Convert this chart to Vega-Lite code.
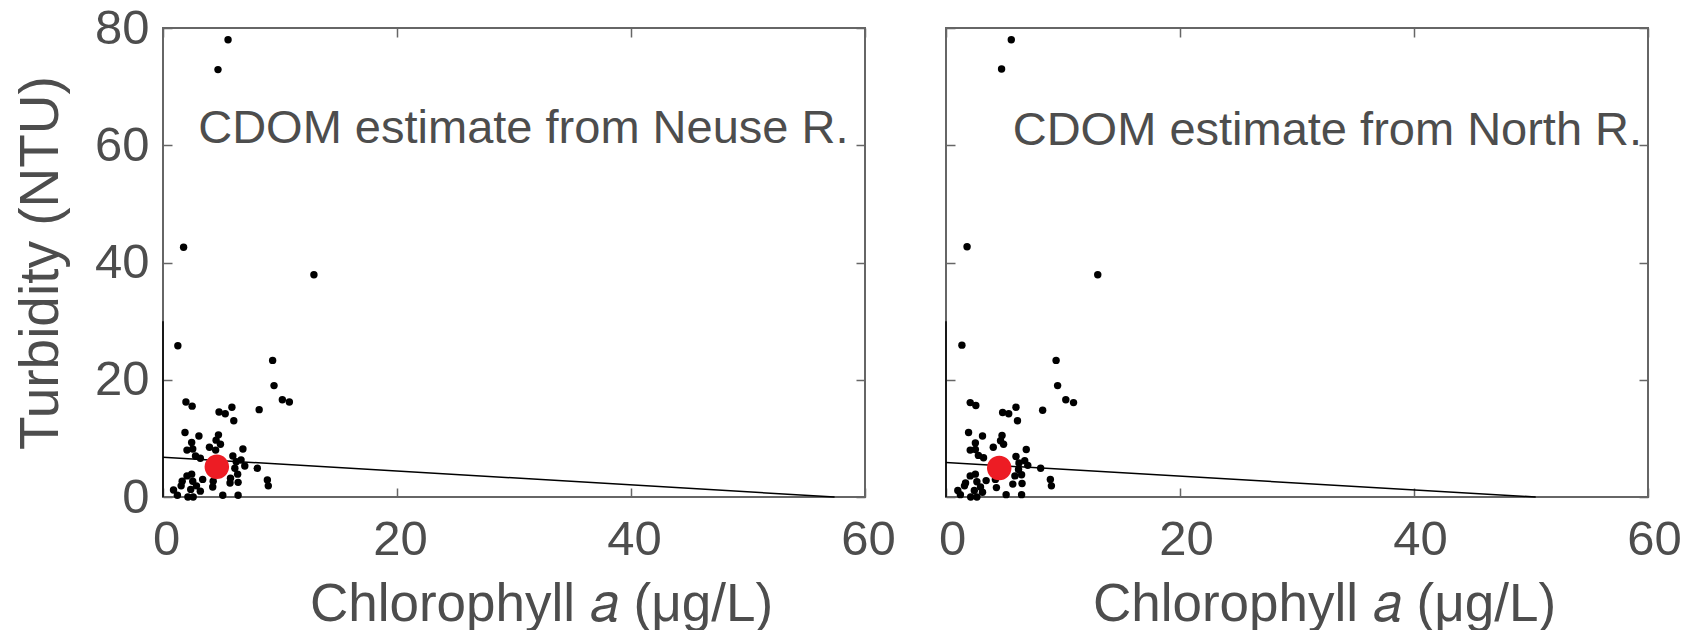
{
  "$schema": "https://vega.github.io/schema/vega-lite/v6.json",
  "background": "white",
  "padding": {"left": 12, "top": 3, "right": 0, "bottom": 0},
  "bounds": "flush",
  "spacing": 81,
  "config": {
    "view": {"stroke": "#666666", "strokeWidth": 2},
    "font": "Liberation Sans",
    "axis": {
      "grid": false,
      "domain": false,
      "labelFont": "Liberation Sans",
      "labelFontSize": 49,
      "labelColor": "#4d4d4d",
      "titleFont": "Liberation Sans",
      "titleFontSize": 53,
      "titleColor": "#4d4d4d",
      "titleFontWeight": "normal",
      "tickColor": "#666666",
      "tickSize": -9,
      "tickWidth": 1.5,
      "labelFlush": false
    }
  },
  "datasets": {
    "neuse_pts": [
      {"chl": 5.56, "turb": 78.0}, {"chl": 4.70, "turb": 72.9}, {"chl": 1.76, "turb": 42.6}, {"chl": 12.9, "turb": 37.9},
      {"chl": 1.27, "turb": 25.8}, {"chl": 9.37, "turb": 23.3}, {"chl": 9.49, "turb": 19.0}, {"chl": 10.2, "turb": 16.6},
      {"chl": 10.8, "turb": 16.2}, {"chl": 1.96, "turb": 16.2}, {"chl": 2.49, "turb": 15.5}, {"chl": 4.79, "turb": 14.5},
      {"chl": 5.32, "turb": 14.2}, {"chl": 5.89, "turb": 15.3}, {"chl": 6.05, "turb": 13.0}, {"chl": 8.22, "turb": 14.9},
      {"chl": 1.88, "turb": 11.0}, {"chl": 3.07, "turb": 10.4}, {"chl": 4.74, "turb": 10.6}, {"chl": 2.45, "turb": 9.3},
      {"chl": 4.54, "turb": 9.7}, {"chl": 4.91, "turb": 9.0}, {"chl": 3.97, "turb": 8.5}, {"chl": 2.05, "turb": 8.0},
      {"chl": 2.54, "turb": 8.2}, {"chl": 4.50, "turb": 8.0}, {"chl": 6.83, "turb": 8.2}, {"chl": 2.78, "turb": 7.0},
      {"chl": 3.19, "turb": 6.6}, {"chl": 5.97, "turb": 7.0}, {"chl": 6.67, "turb": 6.3}, {"chl": 6.99, "turb": 5.3},
      {"chl": 8.06, "turb": 4.9}, {"chl": 6.26, "turb": 6.0}, {"chl": 6.14, "turb": 4.9}, {"chl": 6.38, "turb": 3.9},
      {"chl": 6.42, "turb": 2.5}, {"chl": 5.73, "turb": 2.4}, {"chl": 6.42, "turb": 0.3}, {"chl": 5.11, "turb": 0.3},
      {"chl": 4.25, "turb": 1.7}, {"chl": 3.39, "turb": 3.0}, {"chl": 2.45, "turb": 3.9}, {"chl": 2.05, "turb": 3.6},
      {"chl": 1.64, "turb": 2.7}, {"chl": 1.55, "turb": 1.9}, {"chl": 2.54, "turb": 2.7}, {"chl": 2.86, "turb": 1.9},
      {"chl": 2.37, "turb": 1.3}, {"chl": 3.19, "turb": 1.0}, {"chl": 2.13, "turb": 0.0}, {"chl": 2.58, "turb": 0.0},
      {"chl": 0.9, "turb": 1.2}, {"chl": 1.23, "turb": 0.3}, {"chl": 8.92, "turb": 2.9}, {"chl": 9.0, "turb": 1.9},
      {"chl": 5.77, "turb": 3.2}, {"chl": 4.29, "turb": 2.7}
    ],
    "north_pts": [
      {"chl": 5.58, "turb": 78.0}, {"chl": 4.75, "turb": 73.0}, {"chl": 1.80, "turb": 42.7}, {"chl": 12.97, "turb": 37.9},
      {"chl": 1.36, "turb": 25.9}, {"chl": 9.41, "turb": 23.3}, {"chl": 9.54, "turb": 19.0}, {"chl": 10.24, "turb": 16.6},
      {"chl": 10.9, "turb": 16.1}, {"chl": 2.07, "turb": 16.1}, {"chl": 2.55, "turb": 15.6}, {"chl": 4.84, "turb": 14.4},
      {"chl": 5.36, "turb": 14.2}, {"chl": 5.98, "turb": 15.3}, {"chl": 6.11, "turb": 13.0}, {"chl": 8.26, "turb": 14.8},
      {"chl": 1.93, "turb": 11.0}, {"chl": 3.12, "turb": 10.4}, {"chl": 4.79, "turb": 10.5}, {"chl": 2.51, "turb": 9.2},
      {"chl": 4.66, "turb": 9.6}, {"chl": 4.92, "turb": 9.0}, {"chl": 4.04, "turb": 8.5}, {"chl": 2.07, "turb": 8.0},
      {"chl": 2.51, "turb": 8.1}, {"chl": 6.86, "turb": 8.1}, {"chl": 2.77, "turb": 7.1}, {"chl": 3.21, "turb": 6.7},
      {"chl": 5.98, "turb": 6.9}, {"chl": 6.73, "turb": 6.2}, {"chl": 6.99, "turb": 5.4}, {"chl": 8.09, "turb": 4.9},
      {"chl": 6.24, "turb": 5.8}, {"chl": 6.2, "turb": 4.7}, {"chl": 6.46, "turb": 3.8}, {"chl": 6.5, "turb": 2.3},
      {"chl": 5.71, "turb": 2.2}, {"chl": 6.46, "turb": 0.4}, {"chl": 5.14, "turb": 0.4}, {"chl": 4.31, "turb": 1.6},
      {"chl": 3.43, "turb": 2.8}, {"chl": 2.51, "turb": 3.9}, {"chl": 2.07, "turb": 3.6}, {"chl": 1.67, "turb": 2.4},
      {"chl": 1.58, "turb": 1.9}, {"chl": 2.64, "turb": 2.6}, {"chl": 2.95, "turb": 1.7}, {"chl": 2.42, "turb": 1.1},
      {"chl": 3.12, "turb": 0.8}, {"chl": 2.11, "turb": 0.0}, {"chl": 2.64, "turb": 0.0}, {"chl": 1.01, "turb": 1.1},
      {"chl": 1.23, "turb": 0.4}, {"chl": 8.92, "turb": 3.0}, {"chl": 9.01, "turb": 1.9}, {"chl": 5.89, "turb": 3.6},
      {"chl": 4.22, "turb": 3.0}
    ],
    "neuse_lines": [
      {"x": 0, "y": 6.8, "x2": 57.4, "y2": 0},
      {"x": 0, "y": 0, "x2": 0, "y2": 30}
    ],
    "north_lines": [
      {"x": 0, "y": 5.9, "x2": 50.4, "y2": 0},
      {"x": 0, "y": 0, "x2": 0, "y2": 30}
    ],
    "neuse_mean": [{"chl": 4.6, "turb": 5.15}],
    "north_mean": [{"chl": 4.55, "turb": 4.95}],
    "neuse_label": [{"x": 30.8, "y": 62.8, "text": "CDOM estimate from Neuse R."}],
    "north_label": [{"x": 32.6, "y": 62.5, "text": "CDOM estimate from North R."}]
  },
  "hconcat": [
    {
      "width": 702,
      "height": 469,
      "resolve": {"axis": {"x": "independent", "y": "independent"}},
      "layer": [
        {
          "data": {"name": "neuse_lines"},
          "mark": {"type": "rule", "color": "black", "strokeWidth": 1.5},
          "encoding": {
            "x": {"field": "x", "type": "quantitative", "scale": {"domain": [0, 60], "nice": false},
                  "axis": {"values": [0, 20, 40, 60], "labelPadding": 27, "labelOffset": 3, "title": "Chlorophyll 𝑎 (μg/L)", "titlePadding": 14, "titleX": 378}},
            "y": {"field": "y", "type": "quantitative", "scale": {"domain": [0, 80], "nice": false},
                  "axis": {"values": [0, 20, 40, 60, 80], "labelPadding": 23, "title": "Turbidity (NTU)", "titlePadding": 25, "titleFontSize": 55}},
            "x2": {"field": "x2"},
            "y2": {"field": "y2"}
          }
        },
        {
          "data": {"name": "neuse_pts"},
          "mark": {"type": "circle", "color": "black", "opacity": 1, "size": 55},
          "encoding": {
            "x": {"field": "chl", "type": "quantitative", "axis": null},
            "y": {"field": "turb", "type": "quantitative", "axis": null}
          }
        },
        {
          "data": {"name": "neuse_mean"},
          "mark": {"type": "circle", "color": "#ed1c24", "opacity": 1, "size": 600},
          "encoding": {
            "x": {"field": "chl", "type": "quantitative", "axis": null},
            "y": {"field": "turb", "type": "quantitative", "axis": null}
          }
        },
        {
          "data": {"name": "neuse_label"},
          "mark": {"type": "text", "fontSize": 47, "color": "#4d4d4d", "align": "center", "baseline": "middle", "font": "Liberation Sans"},
          "encoding": {
            "x": {"field": "x", "type": "quantitative", "axis": null},
            "y": {"field": "y", "type": "quantitative", "axis": null},
            "text": {"field": "text"}
          }
        },
        {
          "data": {"name": "neuse_mean"},
          "mark": {"type": "point", "opacity": 0},
          "encoding": {
            "x": {"field": "chl", "type": "quantitative", "axis": {"orient": "top", "values": [0, 20, 40, 60], "labels": false, "title": null}},
            "y": {"field": "turb", "type": "quantitative", "axis": {"orient": "right", "values": [0, 20, 40, 60, 80], "labels": false, "title": null}}
          }
        }
      ]
    },
    {
      "width": 702,
      "height": 469,
      "resolve": {"axis": {"x": "independent", "y": "independent"}},
      "layer": [
        {
          "data": {"name": "north_lines"},
          "mark": {"type": "rule", "color": "black", "strokeWidth": 1.5},
          "encoding": {
            "x": {"field": "x", "type": "quantitative", "scale": {"domain": [0, 60], "nice": false},
                  "axis": {"values": [0, 20, 40, 60], "labelPadding": 27, "labelOffset": 6, "title": "Chlorophyll 𝑎 (μg/L)", "titlePadding": 14, "titleX": 378}},
            "y": {"field": "y", "type": "quantitative", "scale": {"domain": [0, 80], "nice": false},
                  "axis": {"values": [0, 20, 40, 60, 80], "labels": false, "title": null}},
            "x2": {"field": "x2"},
            "y2": {"field": "y2"}
          }
        },
        {
          "data": {"name": "north_pts"},
          "mark": {"type": "circle", "color": "black", "opacity": 1, "size": 55},
          "encoding": {
            "x": {"field": "chl", "type": "quantitative", "axis": null},
            "y": {"field": "turb", "type": "quantitative", "axis": null}
          }
        },
        {
          "data": {"name": "north_mean"},
          "mark": {"type": "circle", "color": "#ed1c24", "opacity": 1, "size": 600},
          "encoding": {
            "x": {"field": "chl", "type": "quantitative", "axis": null},
            "y": {"field": "turb", "type": "quantitative", "axis": null}
          }
        },
        {
          "data": {"name": "north_label"},
          "mark": {"type": "text", "fontSize": 47, "color": "#4d4d4d", "align": "center", "baseline": "middle", "font": "Liberation Sans"},
          "encoding": {
            "x": {"field": "x", "type": "quantitative", "axis": null},
            "y": {"field": "y", "type": "quantitative", "axis": null},
            "text": {"field": "text"}
          }
        },
        {
          "data": {"name": "north_mean"},
          "mark": {"type": "point", "opacity": 0},
          "encoding": {
            "x": {"field": "chl", "type": "quantitative", "axis": {"orient": "top", "values": [0, 20, 40, 60], "labels": false, "title": null}},
            "y": {"field": "turb", "type": "quantitative", "axis": {"orient": "right", "values": [0, 20, 40, 60, 80], "labels": false, "title": null}}
          }
        }
      ]
    }
  ]
}
